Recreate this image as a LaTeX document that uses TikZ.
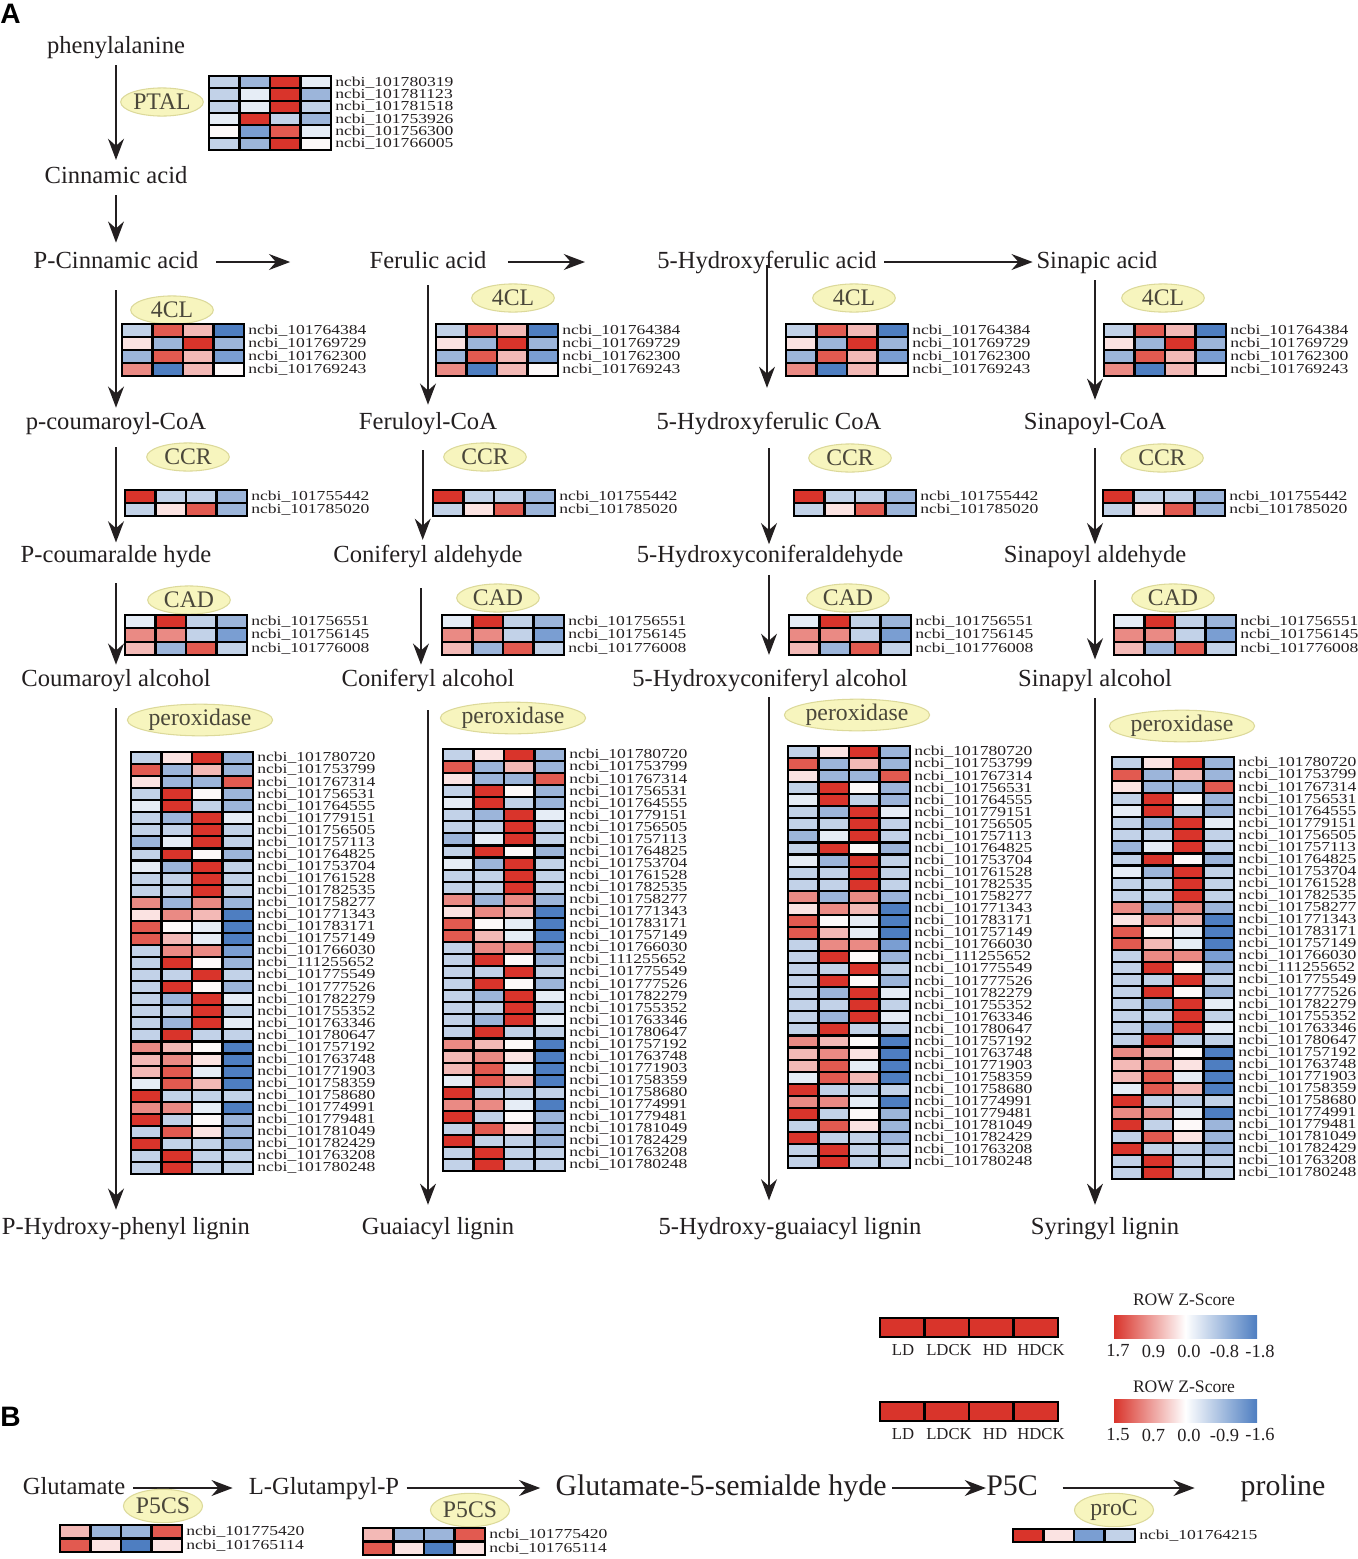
\documentclass[tikz,border=0pt]{standalone}
\usepackage{fontspec}
\setmainfont{Liberation Serif}
\newfontfamily\panelfont{Liberation Sans}
\usetikzlibrary{arrows.meta,shapes.geometric}

\definecolor{hmR}{HTML}{D9342B}
\definecolor{hmM}{HTML}{E25A50}
\definecolor{hmS}{HTML}{EA8A84}
\definecolor{hmP}{HTML}{F3B9B6}
\definecolor{hmQ}{HTML}{FBE3E2}
\definecolor{hmW}{HTML}{FDF9F9}
\definecolor{hmC}{HTML}{E6EDF6}
\definecolor{hmL}{HTML}{C2D2E8}
\definecolor{hmB}{HTML}{9CB5DA}
\definecolor{hmE}{HTML}{7A9ED2}
\definecolor{hmD}{HTML}{4E7EC1}
\definecolor{enzfill}{HTML}{F7F5BE}
\definecolor{enzline}{HTML}{DCD99A}
\definecolor{enztext}{HTML}{4A473A}
\definecolor{txt}{HTML}{231F20}

\tikzset{
  cmpd/.style={inner sep=0pt, text height=10pt, text depth=3pt, text=txt, font=\fontsize{14}{16}\selectfont},
  bigcmpd/.style={cmpd, text height=12pt, text depth=3.5pt, font=\fontsize{17}{19}\selectfont},
  enz/.style={ellipse, draw=enzline, fill=enzfill, line width=0.6pt, inner sep=0pt,
    minimum width=47pt, minimum height=16pt, text=enztext, font=\fontsize{13.5}{15}\selectfont},
  arr/.style={draw=txt, line width=1.4pt, -{Stealth[length=12pt,width=9pt]}},
  hmcell/.style={draw=black, line width=1.2pt},
  idlab/.style={anchor=west, inner sep=0pt, text=txt, font=\fontsize{10}{10}\selectfont},
  leglab/.style={inner sep=0pt, text=txt, font=\fontsize{9.5}{10}\selectfont},
}

% heat map: name, x, y, row height, colour rows, ids
\newcommand{\hmap}[6]{%
  \foreach \hmrow [count=\i] in {#5}{%
    \foreach \hmc [count=\j] in \hmrow{%
      \draw[hmcell, fill=hm\hmc] ({#2+(\j-1)*30.5},{#3+(\i-1)*#4}) rectangle ++(30.5,#4);
    }
  }
  \foreach \id [count=\i] in {#6}{%
    \node[idlab] (#1-\i) at ({#2+126},{#3+(\i-0.5)*#4}) {\scalebox{1}[0.78]{ncbi\_\id}};
  }
}

\begin{document}
\begin{tikzpicture}[x=0.02cm, y=-0.02cm]
  \useasboundingbox (0,0) rectangle (1358,1559);

  \node[font=\panelfont\bfseries\fontsize{16}{16}\selectfont, anchor=north west, inner sep=0pt] (pa) at (0,4) {A};
  \node[font=\panelfont\bfseries\fontsize{16}{16}\selectfont, anchor=north west, inner sep=0pt] (pb) at (0,1407) {B};

  % compounds
  \node[cmpd] (phe) at (116,47) {phenylalanine};
  \node[cmpd] (cin) at (116,177) {Cinnamic acid};
  \node[cmpd] (pcin) at (116,262) {P-Cinnamic acid};
  \node[cmpd] (fer) at (428,262) {Ferulic acid};
  \node[cmpd] (hfa) at (767,262) {5-Hydroxyferulic acid};
  \node[cmpd] (sin) at (1097,262) {Sinapic acid};
  \node[cmpd] (pcoa) at (116,423) {p-coumaroyl-CoA};
  \node[cmpd] (fcoa) at (428,423) {Feruloyl-CoA};
  \node[cmpd] (hfcoa) at (769,423) {5-Hydroxyferulic CoA};
  \node[cmpd] (scoa) at (1095,423) {Sinapoyl-CoA};
  \node[cmpd] (pald) at (116,556) {P-coumaralde hyde};
  \node[cmpd] (cald) at (428,556) {Coniferyl aldehyde};
  \node[cmpd] (hald) at (770,556) {5-Hydroxyconiferaldehyde};
  \node[cmpd] (sald) at (1095,556) {Sinapoyl aldehyde};
  \node[cmpd] (palc) at (116,680) {Coumaroyl alcohol};
  \node[cmpd] (calc) at (428,680) {Coniferyl alcohol};
  \node[cmpd] (halc) at (770,680) {5-Hydroxyconiferyl alcohol};
  \node[cmpd] (salc) at (1095,680) {Sinapyl alcohol};
  \node[cmpd] (plig) at (126,1228) {P-Hydroxy-phenyl lignin};
  \node[cmpd] (glig) at (438,1228) {Guaiacyl lignin};
  \node[cmpd] (hlig) at (790,1228) {5-Hydroxy-guaiacyl lignin};
  \node[cmpd] (slig) at (1105,1228) {Syringyl lignin};

  % arrows
  \draw[arr, shorten <=3.7pt, shorten >=3pt] (phe) -- (phe |- cin.north);
  \draw[arr, shorten <=3.7pt, shorten >=4.3pt] (cin) -- (cin |- pcin.north);
  \draw[arr, shorten <=10pt, shorten >=45pt] (pcin) -- (fer);
  \draw[arr, shorten <=12pt, shorten >=41pt] (fer) -- (hfa);
  \draw[arr, shorten <=4pt, shorten >=2pt] (hfa) -- (sin);

  \draw[arr, shorten <=9.4pt, shorten >=2pt] (pcin) -- (pcin |- pcoa.north);
  \draw[arr, shorten <=7pt, shorten >=1pt] (pcoa) -- (pcoa |- pald.north);
  \draw[arr, shorten <=8.8pt, shorten >=2pt] (pald) -- (pald |- palc.north);
  \draw[arr, shorten <=9.4pt, shorten >=3.7pt] (palc) -- (palc |- plig.north);

  \draw[arr, shorten <=6.5pt, shorten >=3.7pt] (fer) -- (fer |- fcoa.north);
  \draw[arr, shorten <=8.8pt, shorten >=2.5pt] ([xshift=-3pt]fcoa.south) -- ([xshift=-3pt]fcoa.south |- cald.north);
  \draw[arr, shorten <=11.6pt, shorten >=2pt] ([xshift=-4pt]cald.south) -- ([xshift=-4pt]cald.south |- calc.north);
  \draw[arr, shorten <=10.5pt, shorten >=6.5pt] (calc) -- (calc |- glig.north);

  \draw[arr, shorten <=1.7pt, shorten >=13.3pt] (hfa.center) -- (hfa.center |- hfcoa.north);
  \draw[arr, shorten <=7.6pt, shorten >=0pt] (hfcoa) -- (hfcoa |- hald.north);
  \draw[arr, shorten <=4pt, shorten >=7.6pt] (hfcoa.center |- hald.south) -- (hfcoa.center |- halc.north);
  \draw[arr, shorten <=3pt, shorten >=9pt] (hfcoa.center |- halc.south) -- (hfcoa.center |- hlig.north);

  \draw[arr, shorten <=3.7pt, shorten >=6.5pt] (scoa.center |- sin.south) -- (scoa);
  \draw[arr, shorten <=7.6pt, shorten >=0pt] (scoa) -- (scoa |- sald.north);
  \draw[arr, shorten <=7pt, shorten >=5pt] (sald) -- (sald |- salc.north);
  \draw[arr, shorten <=3.7pt, shorten >=6.5pt] (salc) -- (salc |- slig.north);

  % PTAL
  \node[enz] (ptal) at (162,102) {PTAL};
  \hmap{ptalhm}{209}{76}{12.33}{{L,B,R,C},{L,C,R,B},{L,C,R,L},{C,R,L,B},{W,E,M,C},{L,B,R,W}}%
    {101780319,101781123,101781518,101753926,101756300,101766005}

  % 4CL
  \foreach \ex/\ey/\hx [count=\k] in {172/310/122, 513/298/436, 854/298/786, 1163/298/1104}{
    \node[enz] (cl\k) at (\ex,\ey) {4CL};
    \hmap{clhm\k}{\hx}{324}{13}{{L,M,P,D},{Q,B,R,B},{B,M,P,E},{S,D,P,W}}%
      {101764384,101769729,101762300,101769243}
  }

  % CCR
  \foreach \ex/\ey/\hx [count=\k] in {188/457/125, 485/457/433, 850/458/794, 1162/458/1103}{
    \node[enz] (ccr\k) at (\ex,\ey) {CCR};
    \hmap{ccrhm\k}{\hx}{490}{13}{{R,L,L,B},{L,Q,M,B}}{101755442,101785020}
  }

  % CAD
  \foreach \ex/\ey/\hx [count=\k] in {189/600/125, 498/598/442, 848/598/789, 1173/598/1114}{
    \node[enz] (cad\k) at (\ex,\ey) {CAD};
    \hmap{cadhm\k}{\hx}{615}{13.3}{{C,R,L,B},{S,S,L,E},{P,B,M,L}}{101756551,101756145,101776008}
  }

  % peroxidase
  \foreach \ex/\ey/\hx/\hy [count=\k] in {200/720/131/752, 513/718/443/749, 857/715/788/746, 1182/726/1112/757}{
    \node[enz, minimum width=76.5pt, minimum height=18pt] (pox\k) at (\ex,\ey) {peroxidase};
    \hmap{poxhm\k}{\hx}{\hy}{12.06}{{L,Q,R,B},{M,B,P,B},{Q,B,B,M},{L,R,W,B},{C,R,L,B},{L,B,R,C},{L,L,R,L},
      {B,C,R,L},{L,R,W,B},{C,B,R,L},{L,L,R,L},{L,L,R,L},{S,B,S,B},{Q,S,P,D},{M,W,C,D},{M,P,C,D},
      {L,S,S,E},{L,R,W,B},{L,L,R,L},{L,R,W,B},{L,B,R,C},{L,L,R,L},{L,B,R,C},{L,R,L,L},{S,P,W,D},
      {P,S,Q,D},{P,M,C,D},{C,M,P,D},{R,L,L,L},{S,S,C,D},{R,L,W,B},{L,M,Q,B},{R,L,L,B},{L,R,L,L},{L,R,L,L}}%
      {101780720,101753799,101767314,101756531,101764555,101779151,101756505,101757113,101764825,
       101753704,101761528,101782535,101758277,101771343,101783171,101757149,101766030,111255652,
       101775549,101777526,101782279,101755352,101763346,101780647,101757192,101763748,101771903,
       101758359,101758680,101774991,101779481,101781049,101782429,101763208,101780248}
  }

  % legends
  \foreach \ly/\sy/\vals [count=\m] in {1318/1300/{1.7,0.9,0.0,-0.8,-1.8}, 1402/1387/{1.5,0.7,0.0,-0.9,-1.6}}{
    \foreach \t [count=\k] in {LD,LDCK,HD,HDCK}{
      \draw[hmcell, fill=hmR] ({880+(\k-1)*44.5},\ly) rectangle ++(44.5,19);
      \node[leglab] (lg\m-\k) at ({903+(\k-1)*46},{\ly+32}) {\t};
    }
    \node[leglab, font=\fontsize{10}{10}\selectfont] (zs\m) at (1184,\sy) {ROW Z-Score};
    \shade[left color=hmR, right color=hmD, middle color=white] (1114,{\ly-3}) rectangle (1257,{\ly+20});
    \foreach \v [count=\k] in \vals{
      \node[leglab, font=\fontsize{10.5}{11}\selectfont] (zv\m-\k) at ({1118+(\k-1)*35.5},{\ly+33}) {\v};
    }
  }

  % B: proline
  \node[cmpd] (glu) at (74,1488) {Glutamate};
  \node[cmpd] (lgp) at (324,1488) {L-Glutampyl-P};
  \node[bigcmpd] (gsa) at (721,1488) {Glutamate-5-semialde hyde};
  \node[bigcmpd] (p5c) at (1012,1488) {P5C};
  \node[bigcmpd] (pro) at (1283,1488) {proline};

  \draw[arr, shorten <=4.5pt, shorten >=9pt] (glu) -- (lgp);
  \draw[arr, shorten <=4pt, shorten >=8.5pt] (lgp) -- (gsa);
  \draw[arr, shorten <=3pt, shorten >=0pt] (gsa) -- (p5c);
  \draw[arr, shorten <=14pt, shorten >=26pt] (p5c) -- (pro);

  \node[enz, minimum width=45pt, minimum height=19pt] (p5cs1) at (163,1506) {P5CS};
  \node[enz, minimum width=45pt, minimum height=19pt] (p5cs2) at (470,1510) {P5CS};
  \node[enz, minimum width=45pt, minimum height=19pt] (proc) at (1114,1510) {proC};
  \hmap{p5hm1}{60}{1525}{13.5}{{P,B,B,M},{M,Q,D,Q}}{101775420,101765114}
  \hmap{p5hm2}{363}{1528}{13.5}{{P,B,B,M},{M,Q,D,Q}}{101775420,101765114}
  \hmap{prohm}{1013}{1529}{13}{{R,Q,E,L}}{101764215}
\end{tikzpicture}
\end{document}
